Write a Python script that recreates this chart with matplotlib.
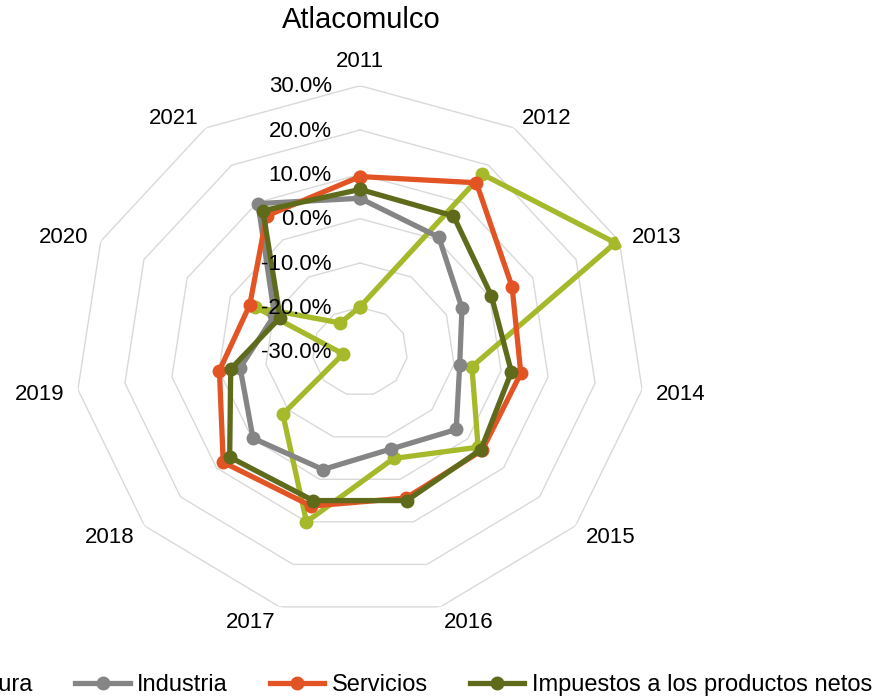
import numpy as np
import matplotlib
matplotlib.use('Agg')
import matplotlib.pyplot as plt

plt.rcParams['font.family'] = ['Liberation Sans', 'DejaVu Sans']

# datos (% de variacion anual)
anios = [str(a) for a in range(2011, 2022)]
agricultura = [-19.9, 17.6, 29.1, -6.2, 2.9, -4.9, 10.0, -8.5, -26.4, -5.8, -22.3]
industria = [4.6, 0.7, -6.4, -8.8, -3.2, -7.1, -2.3, -0.2, -4.5, -10.2, 9.7]
servicios = [9.5, 15.3, 5.2, 4.2, 4.0, 4.4, 6.3, 8.1, -0.1, -4.5, 6.4]
impuestos = [6.6, 6.4, 0.4, 2.2, 3.7, 5.0, 5.0, 6.3, -2.5, -11.5, 7.8]

nombres = ['Agricultura', 'Industria', 'Servicios', 'Impuestos a los productos netos']
colores = ['#a6b92a', '#858585', '#e35425', '#5f6b1b']
anillos = [-20, -10, 0, 10, 20, 30]
r_min, r_max = -30, 30

fig = plt.figure(figsize=(8.72, 7.0), dpi=100)
ax = fig.add_axes([0.086, 0.1176, 0.6537, 0.76], projection='polar')
ax.set_theta_zero_location('N')
ax.set_theta_direction(-1)
ax.set_ylim(r_min, r_max)
ax.set_aspect('auto')
ax.axis('off')

angulos = np.linspace(0, 2 * np.pi, len(anios), endpoint=False)
cerrado = np.append(angulos, angulos[0])

# rejilla poligonal
for v in anillos:
    ax.plot(cerrado, [v] * len(cerrado), color='#d9d9d9', lw=1.0, zorder=1)

# series
handles = []
for i, serie in enumerate([agricultura, industria, servicios, impuestos]):
    vals = np.append(serie, serie[0])
    ln, = ax.plot(cerrado, vals, color=colores[i], lw=3.8, marker='o', ms=9,
                  zorder=3 + i, label=nombres[i])
    handles.append(ln)

# etiquetas del eje radial
for v in [r_min] + anillos:
    ax.annotate('%.1f%%' % v, xy=(0, v), xytext=(-20.4, -0.8), textcoords='offset points',
                ha='right', va='center', fontsize=16, zorder=10)

# etiquetas de categorias
g = 10.1
for a, txt in zip(angulos, anios):
    s, c = np.sin(a), np.cos(a)
    if abs(s) < 0.01:
        ha, va, dy = 'center', 'bottom', 0
    else:
        ha = 'left' if s > 0 else 'right'
        va, dy = 'center', -1.8
    ax.annotate(txt, xy=(a, r_max), xytext=(g * s, g * c + dy), textcoords='offset points',
                ha=ha, va=va, fontsize=16, annotation_clip=False)

fig.text(361 / 872, 1 - 28.3 / 700, 'Atlacomulco', ha='center', va='baseline', fontsize=21)

fig.legend(handles, nombres, loc='center', bbox_to_anchor=(365 / 872, 1 - 685 / 700),
           ncol=4, frameon=False, fontsize=17, handlelength=2.3, handletextpad=0.3,
           columnspacing=1.8, borderaxespad=0, borderpad=0)

plt.savefig('out.png', dpi=100)
